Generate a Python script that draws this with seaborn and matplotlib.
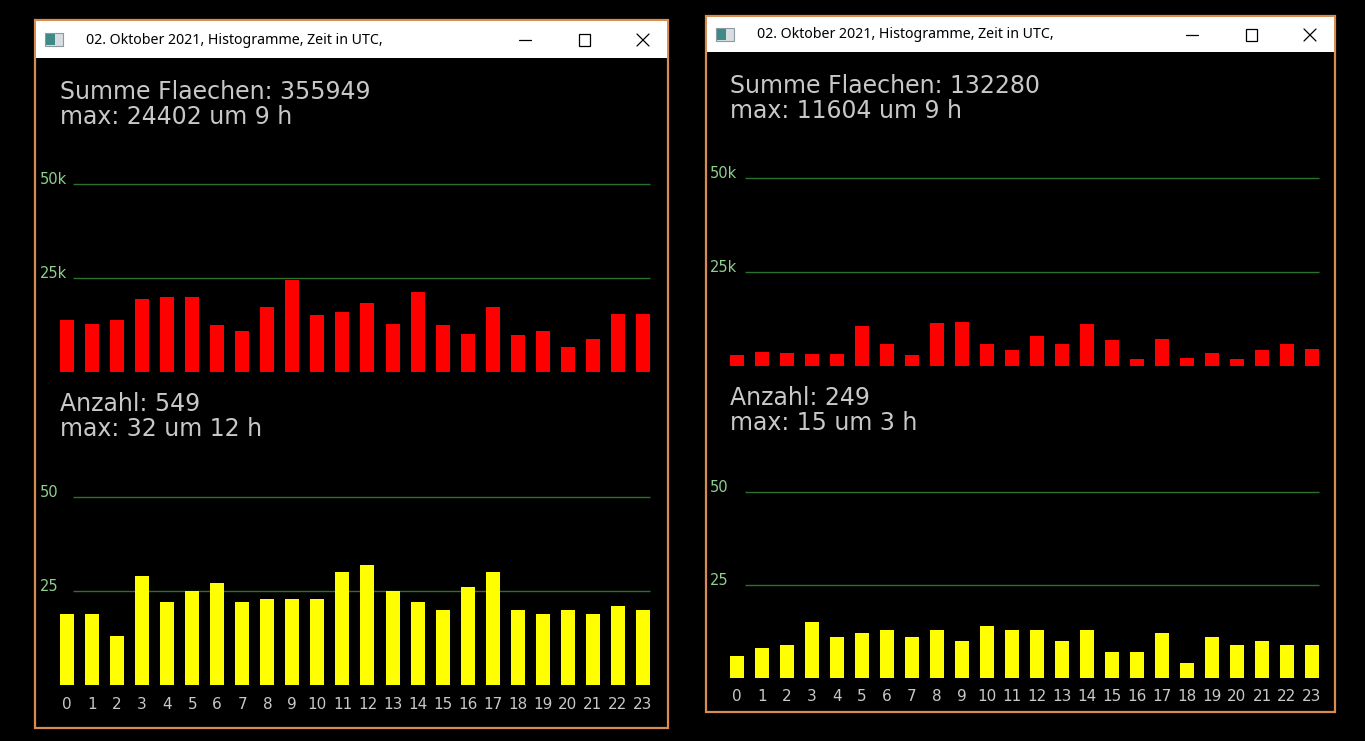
import numpy as np
import matplotlib
matplotlib.use("Agg")
import matplotlib.pyplot as plt
import seaborn as sns
from matplotlib.patches import Rectangle
from matplotlib.lines import Line2D

# ---------------- data ----------------
hours = list(range(24))
window_title = "02. Oktober 2021, Histogramme, Zeit in UTC,"

# left window (hourly sums of areas and counts)
flaechen_links = [13900, 12848, 13950, 19448, 20064, 20064, 12496, 10912, 17160, 24402, 15224, 15840,
                  18480, 12848, 21384, 12496, 10208, 17160, 9856, 10912, 6600, 8888, 15488, 15321]
anzahl_links = [19, 19, 13, 29, 22, 25, 27, 22, 23, 23, 23, 30,
                32, 25, 22, 20, 26, 30, 20, 19, 20, 19, 21, 20]

# right window
flaechen_rechts = [2854, 3829, 3563, 3209, 3209, 10744, 5868, 2854, 11400, 11604, 5868, 4184,
                   8084, 5868, 11045, 6843, 1879, 7198, 2145, 3563, 1879, 4184, 5868, 4538]
anzahl_rechts = [6, 8, 9, 15, 11, 12, 13, 11, 13, 10, 14, 13,
                 13, 10, 13, 7, 7, 12, 4, 11, 9, 10, 9, 9]

flaechen_grid = [25000, 50000]
flaechen_grid_labels = ["25k", "50k"]
anzahl_grid = [25, 50]
anzahl_grid_labels = ["25", "50"]

# ---------------- style ----------------
sns.set_style("dark")
plt.rcParams["font.family"] = ["DejaVu Sans"]

W, H = 1365, 741
BORDER = "#d98c4f"
GRID = "#2b722b"
GRID_TXT = "#8fd08f"
TXT = "#c8c8c8"

fig = plt.figure(figsize=(W / 100, H / 100), dpi=100, facecolor="black")


def fx(x):
    return x / W


def fy(y):
    return 1 - y / H


def fig_line(xs, ys, **kw):
    fig.add_artist(Line2D([fx(v) for v in xs], [fy(v) for v in ys],
                          transform=fig.transFigure, **kw))


def window(x0, y0, x1, y1, bar_h):
    # frame + white title bar
    fig.add_artist(Rectangle((fx(x0), fy(y1)), (x1 - x0) / W, (y1 - y0) / H,
                             transform=fig.transFigure, facecolor="black",
                             edgecolor=BORDER, lw=1.6, zorder=0))
    fig.add_artist(Rectangle((fx(x0 + 1), fy(y0 + bar_h)), (x1 - x0 - 2) / W, (bar_h - 1) / H,
                             transform=fig.transFigure, facecolor="white",
                             edgecolor="none", zorder=1))
    cy = y0 + bar_h / 2 + 1
    # small app icon
    fig.add_artist(Rectangle((fx(x0 + 10), fy(cy + 6)), 18 / W, 13 / H,
                             transform=fig.transFigure, facecolor="#d8dde0",
                             edgecolor="#8a9aa0", lw=0.8, zorder=2))
    fig.add_artist(Rectangle((fx(x0 + 11), fy(cy + 5)), 9 / W, 11 / H,
                             transform=fig.transFigure, facecolor="#3f8a86",
                             edgecolor="none", zorder=3))
    fig.text(fx(x0 + 51), fy(cy), window_title, fontsize=10.2, family="Noto Sans",
             color="black", va="center", ha="left", zorder=3)
    # buttons
    fig_line([x1 - 149, x1 - 137], [cy, cy], color="black", lw=0.9, zorder=3)
    fig.add_artist(Rectangle((fx(x1 - 89), fy(cy + 6)), 11 / W, 12 / H,
                             transform=fig.transFigure, facecolor="none",
                             edgecolor="black", lw=0.9, zorder=3))
    fig_line([x1 - 31, x1 - 19], [cy - 6, cy + 6], color="black", lw=0.9, zorder=3)
    fig_line([x1 - 31, x1 - 19], [cy + 6, cy - 6], color="black", lw=0.9, zorder=3)


def chart(x0, x1, base_y, unit_px, c0, sp, values, color, grid, grid_labels,
          line_from, line_to, label_x, show_ticks, tick_y=None):
    step = grid[0]
    top = 2.15
    ax = fig.add_axes([fx(x0), fy(base_y), (x1 - x0) / W, top * unit_px / H])
    ax.set_facecolor("none")
    sns.barplot(x=hours, y=values, color=color, saturation=1, width=0.56,
                linewidth=0, ax=ax, zorder=2)
    lo = -(c0 - x0) / sp
    ax.set_xlim(lo, lo + (x1 - x0) / sp)
    ax.set_ylim(0, top * step)
    ax.hlines(grid, (line_from - c0) / sp, (line_to - c0) / sp, color=GRID, lw=1, zorder=1)
    for v, lbl in zip(grid, grid_labels):
        ax.text((label_x - c0) / sp, v, lbl, color=GRID_TXT, fontsize=10.5,
                ha="left", va="baseline")
    ax.set_yticks([])
    ax.set_ylabel("")
    ax.grid(False)
    for s in ax.spines.values():
        s.set_visible(False)
    if show_ticks:
        ax.set_xticks(hours)
        ax.set_xticklabels([str(h) for h in hours], color=TXT, fontsize=11)
        ax.tick_params(axis="x", length=0, pad=(tick_y - base_y - 8) * 0.72)
    else:
        ax.set_xticks([])
    return ax


def info(x, y, lines):
    for i, t in enumerate(lines):
        fig.text(fx(x), fy(y + i * 25), t, color=TXT, fontsize=17,
                 ha="left", va="baseline")


# ---------------- left window ----------------
window(35, 20, 668, 728, 38)
chart(37, 666, 372, 94, 67, 25.04, flaechen_links, "#ff0000", flaechen_grid,
      flaechen_grid_labels, 73, 650, 40, False)
chart(37, 666, 685, 94, 67, 25.04, anzahl_links, "#ffff00", anzahl_grid,
      anzahl_grid_labels, 73, 650, 40, True, tick_y=705)
info(60, 99, [f"Summe Flaechen: {sum(flaechen_links)}",
              f"max: {max(flaechen_links)} um {int(np.argmax(flaechen_links))} h"])
info(60, 411, [f"Anzahl: {sum(anzahl_links)}",
               f"max: {max(anzahl_links)} um {int(np.argmax(anzahl_links))} h"])

# ---------------- right window ----------------
window(706, 16, 1335, 712, 36)
chart(708, 1333, 366, 94, 737, 25.0, flaechen_rechts, "#ff0000", flaechen_grid,
      flaechen_grid_labels, 745, 1319, 710, False)
chart(708, 1333, 678, 93, 737, 25.0, anzahl_rechts, "#ffff00", anzahl_grid,
      anzahl_grid_labels, 745, 1319, 710, True, tick_y=697)
info(730, 93, [f"Summe Flaechen: {sum(flaechen_rechts)}",
               f"max: {max(flaechen_rechts)} um {int(np.argmax(flaechen_rechts))} h"])
info(730, 405, [f"Anzahl: {sum(anzahl_rechts)}",
                f"max: {max(anzahl_rechts)} um {int(np.argmax(anzahl_rechts))} h"])

fig.savefig("out.png", dpi=100, facecolor="black")
